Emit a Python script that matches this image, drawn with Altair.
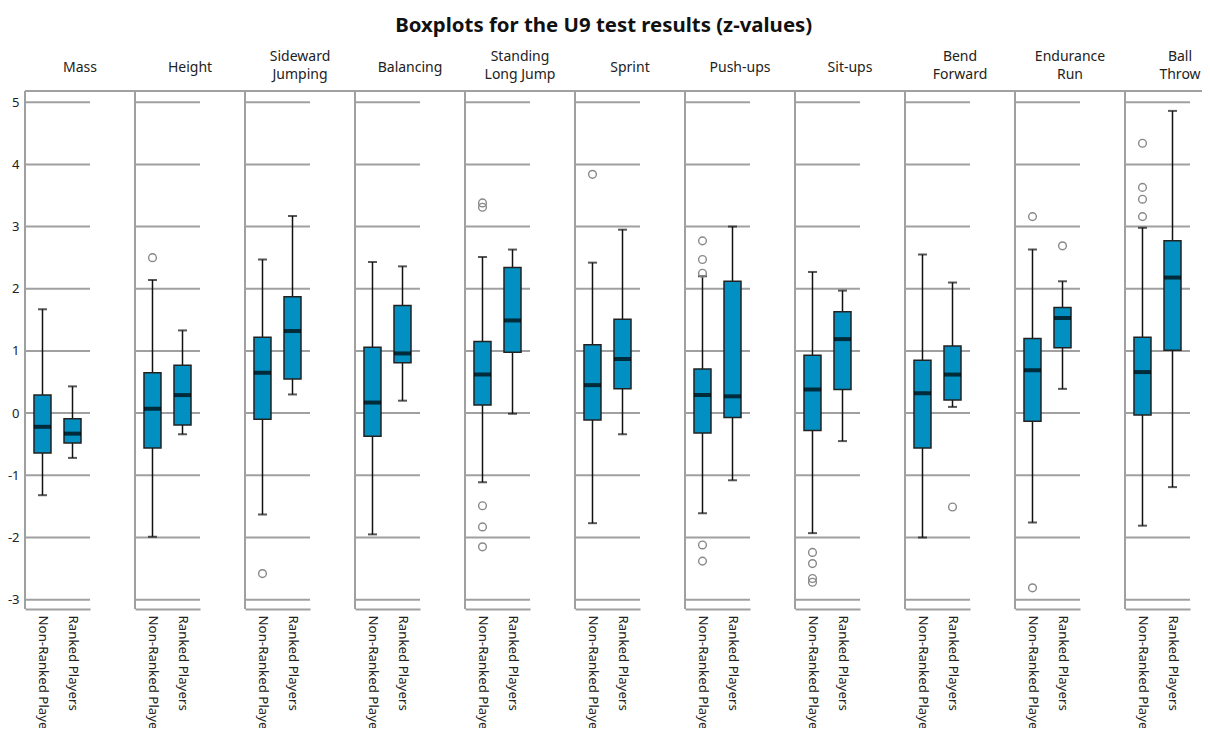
import altair as alt
import pandas as pd

tests = ["Mass", "Height", "Sideward Jumping", "Balancing", "Standing Long Jump",
         "Sprint", "Push-ups", "Sit-ups", "Bend Forward", "Endurance Run", "Ball Throw"]
# panel header text, split over two lines where the reference wraps
header_line1 = ["Mass", "Height", "Sideward", "Balancing", "Standing",
                "Sprint", "Push-ups", "Sit-ups", "Bend", "Endurance", "Ball"]
header_line2 = ["", "", "Jumping", "", "Long Jump",
                "", "", "", "Forward", "Run", "Throw"]
groups = ["Non-Ranked Players", "Ranked Players"]

# per test: [Non-Ranked, Ranked]
whisker_lo = [[-1.32, -0.72], [-1.99, -0.34], [-1.63, 0.30], [-1.95, 0.20], [-1.11, -0.01],
              [-1.77, -0.34], [-1.61, -1.08], [-1.93, -0.45], [-2.00, 0.10], [-1.76, 0.39], [-1.81, -1.19]]
q1 = [[-0.64, -0.48], [-0.56, -0.19], [-0.10, 0.55], [-0.37, 0.81], [0.13, 0.98],
      [-0.11, 0.39], [-0.32, -0.07], [-0.28, 0.38], [-0.56, 0.21], [-0.13, 1.05], [-0.03, 1.01]]
median = [[-0.22, -0.33], [0.07, 0.29], [0.65, 1.32], [0.17, 0.96], [0.62, 1.49],
          [0.45, 0.87], [0.29, 0.27], [0.38, 1.19], [0.32, 0.62], [0.69, 1.53], [0.66, 2.18]]
q3 = [[0.29, -0.09], [0.65, 0.77], [1.22, 1.87], [1.06, 1.73], [1.15, 2.34],
      [1.10, 1.51], [0.71, 2.12], [0.93, 1.63], [0.85, 1.08], [1.20, 1.70], [1.22, 2.77]]
whisker_hi = [[1.67, 0.43], [2.14, 1.33], [2.47, 3.17], [2.43, 2.36], [2.51, 2.63],
              [2.42, 2.95], [2.20, 3.00], [2.27, 1.97], [2.55, 2.10], [2.63, 2.12], [2.98, 4.86]]

outlier_test = ["Height", "Sideward Jumping",
                "Standing Long Jump", "Standing Long Jump", "Standing Long Jump", "Standing Long Jump", "Standing Long Jump",
                "Sprint",
                "Push-ups", "Push-ups", "Push-ups", "Push-ups", "Push-ups",
                "Sit-ups", "Sit-ups", "Sit-ups", "Sit-ups",
                "Bend Forward",
                "Endurance Run", "Endurance Run", "Endurance Run",
                "Ball Throw", "Ball Throw", "Ball Throw", "Ball Throw"]
outlier_group = ["Non-Ranked Players", "Non-Ranked Players",
                 "Non-Ranked Players", "Non-Ranked Players", "Non-Ranked Players", "Non-Ranked Players", "Non-Ranked Players",
                 "Non-Ranked Players",
                 "Non-Ranked Players", "Non-Ranked Players", "Non-Ranked Players", "Non-Ranked Players", "Non-Ranked Players",
                 "Non-Ranked Players", "Non-Ranked Players", "Non-Ranked Players", "Non-Ranked Players",
                 "Ranked Players",
                 "Non-Ranked Players", "Non-Ranked Players", "Ranked Players",
                 "Non-Ranked Players", "Non-Ranked Players", "Non-Ranked Players", "Non-Ranked Players"]
outlier_value = [2.50, -2.58,
                 3.38, 3.31, -1.49, -1.83, -2.15,
                 3.84,
                 2.77, 2.47, 2.25, -2.12, -2.38,
                 -2.24, -2.42, -2.66, -2.72,
                 -1.51,
                 3.16, -2.81, 2.69,
                 4.34, 3.63, 3.44, 3.16]

y_ticks = [-3, -2, -1, 0, 1, 2, 3, 4, 5]

# ---- build one long table ----
rows = []
for i, t in enumerate(tests):
    for j, g in enumerate(groups):
        rows.append(dict(kind="box", test=t, group=g, lo=whisker_lo[i][j], q1=q1[i][j],
                         med=median[i][j], q3=q3[i][j], hi=whisker_hi[i][j]))
    for v in y_ticks:
        rows.append(dict(kind="grid", test=t, tick=v))
    rows.append(dict(kind="frame", test=t, l1=header_line1[i], l2=header_line2[i],
                     nlines=2 if header_line2[i] else 1))
for t, g, v in zip(outlier_test, outlier_group, outlier_value):
    rows.append(dict(kind="out", test=t, group=g, val=v))
df = pd.DataFrame(rows)

W, H = 110, 518
PW = 65
FONT = "Noto Sans"
BLUE = "#0290c3"
GRID = "#a0a0a0"

yscale = alt.Scale(domain=[-3.15, 5.18], nice=False, zero=False)
yaxis = alt.Axis(values=y_ticks, grid=False, domain=False, ticks=False, labelFontSize=13,
                 labelFont=FONT, labelColor="#222", labelPadding=6, title=None,
                 labelExpr="toString(datum.value)")
xscale = alt.Scale(type="point", range=[0, PW], padding=0.583)
x_enc = alt.X("group:N", scale=xscale, sort=groups, title=None,
              axis=alt.Axis(labelAngle=90, ticks=False, domain=True, domainColor=GRID,
                            domainWidth=2, labelFontSize=13.3, labelFont=FONT, labelColor="#222",
                            labelPadding=6, grid=False, labelLimit=300))

grid = alt.Chart().mark_rule(color=GRID, strokeWidth=2).encode(
    y=alt.Y("tick:Q", scale=yscale, title=None, axis=yaxis),
    x=alt.value(0), x2=alt.value(PW)
).transform_filter(alt.datum.kind == "grid")

frame = alt.Chart().transform_filter(alt.datum.kind == "frame")
left_line = frame.mark_rule(color=GRID, strokeWidth=2).encode(
    x=alt.value(0), y=alt.value(0), y2=alt.value(H))
top_line = frame.mark_rule(color=GRID, strokeWidth=2).encode(
    x=alt.value(0), x2=alt.value(W), y=alt.value(0))

hdr_kw = dict(font=FONT, fontSize=14, color="#222", align="center", baseline="middle")
hdr_single = frame.mark_text(**hdr_kw).encode(
    text="l1:N", x=alt.value(W / 2), y=alt.value(-23)
).transform_filter(alt.datum.nlines == 1)
hdr_top = frame.mark_text(**hdr_kw).encode(
    text="l1:N", x=alt.value(W / 2), y=alt.value(-34)
).transform_filter(alt.datum.nlines == 2)
hdr_bot = frame.mark_text(**hdr_kw).encode(
    text="l2:N", x=alt.value(W / 2), y=alt.value(-16)
).transform_filter(alt.datum.nlines == 2)

boxbase = alt.Chart().transform_filter(alt.datum.kind == "box")

whisk = boxbase.mark_rule(color="#111", strokeWidth=1.5).encode(
    x=x_enc, y=alt.Y("lo:Q", scale=yscale, axis=yaxis), y2="hi:Q")
caps_lo = boxbase.mark_tick(color="#111", size=9, thickness=2).encode(
    x=x_enc, y=alt.Y("lo:Q", scale=yscale, axis=yaxis))
caps_hi = boxbase.mark_tick(color="#111", size=9, thickness=2).encode(
    x=x_enc, y=alt.Y("hi:Q", scale=yscale, axis=yaxis))
box = boxbase.mark_bar(size=17, color=BLUE, stroke="#222", strokeWidth=1.5).encode(
    x=x_enc, y=alt.Y("q1:Q", scale=yscale, axis=yaxis), y2="q3:Q")
med = boxbase.mark_tick(color="#000", size=17, thickness=4).encode(
    x=x_enc, y=alt.Y("med:Q", scale=yscale, axis=yaxis))

outs = alt.Chart().mark_point(shape="circle", filled=False, size=60, color="#888",
                              strokeWidth=1.4, opacity=1).encode(
    x=x_enc, y=alt.Y("val:Q", scale=yscale, axis=yaxis)
).transform_filter(alt.datum.kind == "out")

layered = alt.layer(grid, left_line, top_line, whisk, box, med, caps_lo, caps_hi, outs,
                    hdr_single, hdr_top, hdr_bot,
                    data=df).properties(width=W, height=H)

PAD_L, PAD_T = 17, 83

chart = layered.facet(
    column=alt.Column("test:N", sort=tests, title=None, header=alt.Header(labels=False)),
    spacing=0
).properties(
    title=alt.TitleParams("Boxplots for the U9 test results (z-values)", fontSize=20.4,
                          font=FONT, fontWeight="bold", color="#111", anchor="middle",
                          dx=-18, offset=14),
    bounds="flush",
    autosize=alt.AutoSizeParams(type="none"),
    padding={"left": PAD_L, "top": PAD_T, "right": 0, "bottom": 0},
    params=[alt.VariableParameter(name="width", value=1194 - PAD_L),
            alt.VariableParameter(name="height", value=720 - PAD_T)]
).configure_view(stroke=None)

chart.save("out.html", embed_options={"renderer": "svg", "actions": False})
